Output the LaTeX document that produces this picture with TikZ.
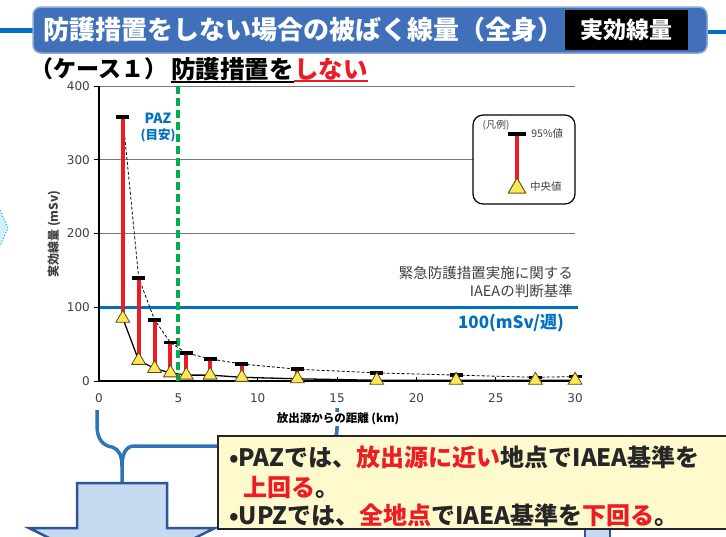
\documentclass[tikz,border=0pt]{standalone}
\usepackage{fontspec}
\setmainfont{Noto Sans CJK JP}
\newfontfamily\numfont{DejaVu Sans}
\usepackage{tikz}
\usetikzlibrary{shapes,shapes.geometric,positioning}
\definecolor{TitleBlue}{RGB}{64,112,186}
\definecolor{LineBlue}{RGB}{0,112,192}
\definecolor{BraceBlue}{RGB}{46,117,182}
\definecolor{PazGreen}{RGB}{0,176,80}
\definecolor{BarRed}{RGB}{237,28,36}
\definecolor{TriYellow}{RGB}{255,230,90}
\definecolor{TriEdge}{RGB}{90,80,20}
\definecolor{NoteYellow}{RGB}{255,250,205}
\definecolor{ArrowFill}{RGB}{197,217,241}
\definecolor{ArrowDraw}{RGB}{47,85,151}
\definecolor{TextGray}{RGB}{64,64,64}
\definecolor{GridGray}{RGB}{120,120,120}
\definecolor{TipCyan}{RGB}{205,240,250}
\definecolor{TipEdge}{RGB}{60,150,170}

\begin{document}
\begin{tikzpicture}[x=1pt,y=-1pt]
  \tikzset{TitleStyle/.style = {shape          = rectangle,
                                rounded corners = 8pt,
                                fill           = TitleBlue,
                                draw           = TitleBlue!60!white,
                                line width     = 1.5pt,
                                minimum width  = 674pt,
                                minimum height = 46pt}}
  \tikzset{TagStyle/.style = {shape          = rectangle,
                              fill           = black,
                              text           = white,
                              font           = \fontsize{23}{23}\selectfont\bfseries,
                              minimum width  = 123pt,
                              minimum height = 40pt}}
  \tikzset{CapStyle/.style = {shape          = rectangle,
                              fill           = black,
                              inner sep      = 0pt,
                              minimum width  = 13pt,
                              minimum height = 3.5pt}}
  \tikzset{MedStyle/.style = {shape          = regular polygon,
                              regular polygon sides = 3,
                              fill           = TriYellow,
                              draw           = TriEdge,
                              line width     = 0.8pt,
                              inner sep      = 0pt,
                              minimum size   = 16pt}}
  \tikzset{BarStyle/.style = {draw=BarRed, line width=4pt}}
  \tikzset{TickLabel/.style = {font=\numfont\fontsize{12}{12}\selectfont, text=TextGray, inner sep=1pt}}
  \tikzset{NoteText/.style = {anchor=west, inner sep=0pt, font=\fontsize{24}{24}\selectfont\bfseries, text=black!85}}
  \tikzset{ArrowStyle/.style = {fill=ArrowFill, draw=ArrowDraw, line width=2.5pt, line join=miter}}
  \clip (0,0) rectangle (726,536);
  \fill[white] (0,0) rectangle (726,536);

  %%% TITRE %%%
  \draw[LineBlue, line width=5pt] (0,30) -- (40,30);
  \draw[LineBlue, line width=4pt] (700,32) -- (726,32);
  \node[TitleStyle] (title) at (370,30) {};
  \node[anchor=west, text=white, font=\fontsize{26}{26}\selectfont\bfseries] (titletext) at (40,30) {防護措置をしない場合の被ばく線量（全身）};
  \node[TagStyle] (tag) at (626.5,30) {実効線量};

  %%% SOUS-TITRE %%%
  \node[anchor=west, inner sep=0pt, font=\fontsize{23}{23}\selectfont\bfseries] (case) at (30,69) {（ケース１）};
  \node[right=4pt of case, inner sep=0pt, font=\fontsize{24.5}{24.5}\selectfont\bfseries] (sub1) {防護措置を};
  \node[right=0pt of sub1, inner sep=0pt, text=BarRed, font=\fontsize{24.5}{24.5}\selectfont\bfseries] (sub2) {しない};
  \draw[line width=1.6pt] ([yshift=-1pt]sub1.south west) -- ([yshift=-1pt]sub1.south east);
  \draw[BarRed, line width=1.6pt] ([yshift=-1pt]sub2.south west) -- ([yshift=-1pt]sub2.south east);

  %%% FLECHE GAUCHE %%%
  \fill[TipCyan] (8,228) -- (-12,183) -- (-12,273) -- cycle;
  \draw[TipEdge, dotted, line width=1pt] (-12,183) -- (8,228) -- (-12,273);

  %%% ACCOLADE ET FLECHE %%%
  \coordinate (brL) at (97,410);
  \coordinate (brTip) at (122,484);
  \coordinate (brR) at (337,408);
  \draw[BraceBlue, line width=3.5pt]
    (brL) -- (97,426) .. controls (97,440) and (104,446) .. (112,447)
          .. controls (119,449) and (122,456) .. (122,466) -- (brTip);
  \draw[BraceBlue, line width=3.5pt]
    (122,466) .. controls (122,454) and (126,446) .. (134,446)
          -- (322,446) .. controls (333,446) and (337,438) .. (337,428) -- (brR);
  \draw[ArrowStyle] (77,483) -- (167,483) -- (167,528) -- (215,528) -- (122,574) -- (29,528) -- (77,528) -- cycle;
  \draw[ArrowStyle] (585,527) rectangle (610,560);

  %%% GRAPHE %%%
  \foreach \v in {200,300,400}
    \draw[GridGray, line width=0.8pt] (99,{381-0.7375*\v}) -- (575,{381-0.7375*\v});
  \draw[LineBlue, line width=3.5pt] (99,307.25) -- (578,307.25);
  \foreach \v in {0,100,...,400}{
    \draw[line width=1pt] (94,{381-0.7375*\v}) -- (99,{381-0.7375*\v});
    \node[TickLabel, anchor=east] (yt\v) at (91,{381-0.7375*\v}) {\v};
  }
  \foreach \k in {0,5,...,30}{
    \draw[line width=1pt] ({99+15.87*\k},381) -- ({99+15.87*\k},377);
    \node[TickLabel] (xt\k) at ({99+15.87*\k},398) {\k};
  }
  \draw[line width=1.5pt] (99,86) -- (99,382);
  \draw[line width=1.8pt] (98,381) -- (576,381);

  \node[rotate=90, font=\fontsize{12}{12}\selectfont\bfseries, text=TextGray] (ytitle) at (54,234) {実効線量 (mSv)};
  \node[fill=white, inner sep=1pt, font=\fontsize{11.5}{11.5}\selectfont\bfseries] (xtitle) at (338,419) {放出源からの距離 (km)};

  % valeurs : distance / mediane / 95%
  \foreach \km/\lo/\hi [count=\i] in {1.5/85/358, 2.5/28/140, 3.5/17/83, 4.5/11/52, 5.5/8/38, 7/8/30, 9/5/23, 12.5/3/16, 17.5/1/11, 22.5/1/8, 27.5/1/5, 30/1/6}{
    \coordinate (p\i) at ({99+15.87*\km},{381-0.7375*\hi});
    \coordinate (m\i) at ({99+15.87*\km},{381-0.7375*\lo});
  }
  \draw[line width=0.8pt, dash pattern=on 3pt off 2pt] (p1) \foreach \i in {2,...,12}{-- (p\i)};
  \draw[line width=1.3pt] (m1) \foreach \i in {2,...,12}{-- (m\i)};
  \foreach \i in {1,...,12}
    \draw[BarStyle] (p\i) -- (m\i);

  %%% PAZ %%%
  \coordinate (paztop) at (178,86);
  \coordinate (pazbot) at (178,381);
  \draw[PazGreen, line width=3.5pt, dash pattern=on 8pt off 4pt] (paztop) -- (pazbot);
  \node[text=LineBlue, font=\fontsize{14}{14}\selectfont\bfseries, inner sep=0pt] (paz) at (158,118) {PAZ};
  \node[below=5pt of paz, text=LineBlue, font=\fontsize{12.5}{12.5}\selectfont\bfseries, inner sep=0pt] (pazsub) {(目安)};

  \foreach \i in {1,...,12}{
    \node[CapStyle] (cap\i) at (p\i) {};
    \node[MedStyle] (tri\i) at (m\i) {};
  }

  %%% LEGENDE %%%
  \node[draw, fill=white, line width=1.2pt, rounded corners=10pt, minimum width=102pt, minimum height=89pt] (legend) at (524,159.5) {};
  \node[font=\fontsize{10}{10}\selectfont, text=TextGray, inner sep=0pt] (legtitle) at (496,125) {(凡例)};
  \node[CapStyle, minimum width=18pt, minimum height=4pt] (capL) at (517,134) {};
  \node[MedStyle, minimum size=20pt] (triL) at (517,188) {};
  \draw[BarStyle, line width=3.5pt] (capL) -- (triL.center);
  \node[CapStyle, minimum width=18pt, minimum height=4pt] at (capL) {};
  \node[MedStyle, minimum size=20pt] at (triL) {};
  \node[right=5pt of capL, font=\fontsize{10.5}{10.5}\selectfont, text=TextGray, inner sep=0pt] (leg95) {95\%値};
  \node[anchor=west, font=\fontsize{10.5}{10.5}\selectfont, text=TextGray, inner sep=0pt] (legmed) at (530,187) {中央値};

  %%% CRITERE IAEA %%%
  \node[anchor=east, font=\fontsize{14.5}{14.5}\selectfont, text=TextGray, inner sep=0pt] (iaea1) at (573,273) {緊急防護措置実施に関する};
  \node[below=4pt of iaea1.south east, anchor=north east, font=\fontsize{14.5}{14.5}\selectfont, text=TextGray, inner sep=0pt] (iaea2) {IAEAの判断基準};
  \node[anchor=east, font=\fontsize{17}{17}\selectfont\bfseries, text=LineBlue, inner sep=0pt] (limit) at (564,323) {100(mSv/週)};

  %%% NOTE %%%
  \node[draw=black!85, fill=NoteYellow, line width=2pt, anchor=north west, minimum width=530pt, minimum height=93pt] (note) at (217,435) {};
  \node[NoteText] (line1) at (229,457)
    {•PAZでは、\textcolor{BarRed}{放出源に近い}地点でIAEA基準を};
  \node[NoteText] (line2) at (243,488)
    {\textcolor{BarRed}{上回る}。};
  \node[NoteText] (line3) at (229,515)
    {•UPZでは、\textcolor{BarRed}{全地点}でIAEA基準を\textcolor{BarRed}{下回る}。};
\end{tikzpicture}
\end{document}
